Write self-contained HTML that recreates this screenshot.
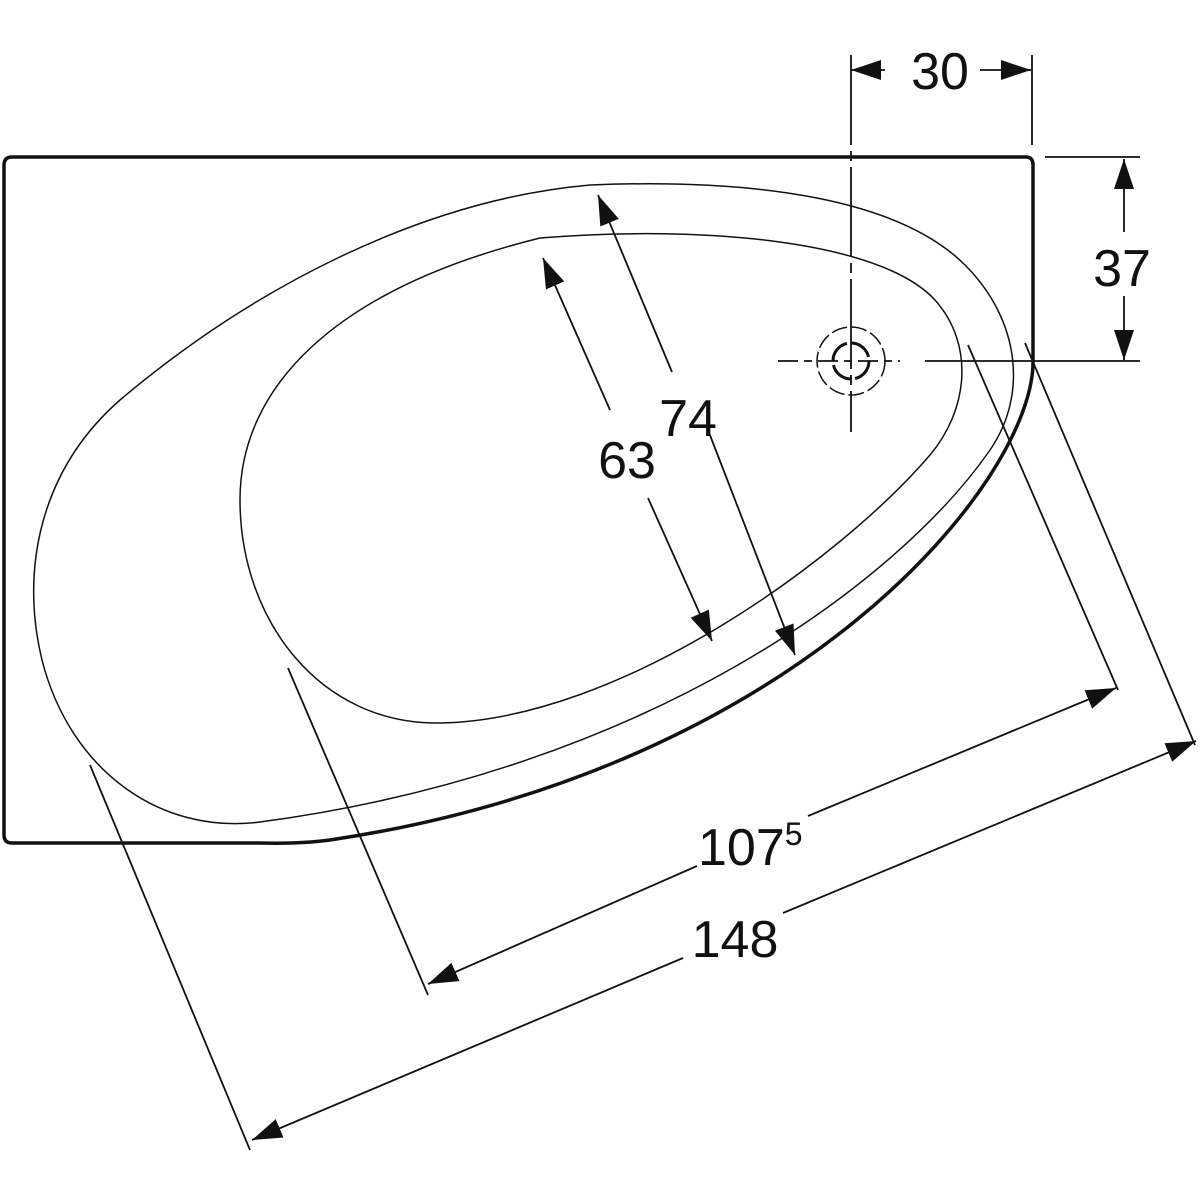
<!DOCTYPE html>
<html><head><meta charset="utf-8"><style>
html,body{margin:0;padding:0;background:#fff;}
svg{display:block;}
text{font-family:"Liberation Sans",Arial,sans-serif;fill:#111;}
</style></head><body>
<svg width="1200" height="1200" viewBox="0 0 1200 1200" xmlns="http://www.w3.org/2000/svg">
<defs>
<marker id="a" viewBox="0 0 30 20" refX="30" refY="10" markerWidth="30" markerHeight="20" markerUnits="userSpaceOnUse" orient="auto-start-reverse">
<path d="M0,0 L30,10 L0,20 Z" fill="#111"/>
</marker>
</defs>
<g fill="none" stroke="#111">
<!-- outer body -->
<path d="M12,157 L1026,157 Q1033,157 1033,165 L1033,362 C1033,480 800,770 330,840 Q300,844 260,843 L12,843 Q4,843 4,835 L4,165 Q4,157 12,157 Z" stroke-width="3.5"/>
<!-- rim -->
<path d="M590,185 C760,178 900,200 965,265 C1020,320 1028,395 990,450 C900,580 650,770 260,822 C160,835 70,770 42,660 C20,570 40,470 120,400 C250,290 420,200 590,185 Z" stroke-width="1.5"/>
<!-- basin -->
<path d="M540,238 C700,225 880,240 935,300 C975,345 968,410 930,455 C840,560 620,720 440,723 C320,725 240,620 240,500 C240,390 330,290 540,238 Z" stroke-width="1.5"/>
<!-- drain -->
<circle cx="851" cy="361" r="34" stroke-width="1.5" stroke-dasharray="16 4"/>
<circle cx="851" cy="361" r="18" stroke-width="3" stroke-dasharray="24 4.3"/>
<!-- centerlines -->
<line x1="851" y1="55" x2="851" y2="432" stroke-width="1.8" stroke-dasharray="90 6 10 6"/>
<line x1="778" y1="361" x2="900" y2="361" stroke-width="1.8" stroke-dasharray="20 6 8 6"/>
<line x1="925" y1="361" x2="1140" y2="361" stroke-width="1.8"/>
<!-- 30 -->
<line x1="1032" y1="55" x2="1032" y2="145" stroke-width="1.8"/>
<line x1="885" y1="70" x2="851" y2="70" stroke-width="1.8" marker-end="url(#a)"/>
<line x1="980" y1="70" x2="1031" y2="70" stroke-width="1.8" marker-end="url(#a)"/>
<!-- 37 -->
<line x1="1045" y1="157" x2="1140" y2="157" stroke-width="1.8"/>
<line x1="1124" y1="232" x2="1124" y2="159" stroke-width="1.8" marker-end="url(#a)"/>
<line x1="1124" y1="296" x2="1124" y2="360" stroke-width="1.8" marker-end="url(#a)"/>
<!-- 74 -->
<line x1="672" y1="372" x2="598" y2="195" stroke-width="1.8" marker-end="url(#a)"/>
<line x1="708" y1="430" x2="795" y2="655" stroke-width="1.8" marker-end="url(#a)"/>
<!-- 63 -->
<line x1="610" y1="410" x2="543" y2="258" stroke-width="1.8" marker-end="url(#a)"/>
<line x1="648" y1="498" x2="712" y2="641" stroke-width="1.8" marker-end="url(#a)"/>
<!-- 107.5 -->
<line x1="968" y1="345" x2="1118" y2="690" stroke-width="1.8"/>
<line x1="288" y1="668" x2="428" y2="995" stroke-width="1.8"/>
<line x1="808" y1="816" x2="1116" y2="688" stroke-width="1.8" marker-end="url(#a)"/>
<line x1="697" y1="866" x2="428" y2="984" stroke-width="1.8" marker-end="url(#a)"/>
<!-- 148 -->
<line x1="1025" y1="343" x2="1195" y2="745" stroke-width="1.8"/>
<line x1="90" y1="765" x2="250" y2="1150" stroke-width="1.8"/>
<line x1="783" y1="913" x2="1196" y2="741" stroke-width="1.8" marker-end="url(#a)"/>
<line x1="683" y1="958" x2="252" y2="1140" stroke-width="1.8" marker-end="url(#a)"/>
</g>
<g font-size="52">
<text x="940" y="89" text-anchor="middle">30</text>
<text x="1122" y="286" text-anchor="middle">37</text>
<text x="688" y="436" text-anchor="middle">74</text>
<text x="627" y="478" text-anchor="middle">63</text>
<text x="698" y="865">107<tspan font-size="32" dy="-20">5</tspan></text>
<text x="735" y="957" text-anchor="middle">148</text>
</g>
</svg>
</body></html>
